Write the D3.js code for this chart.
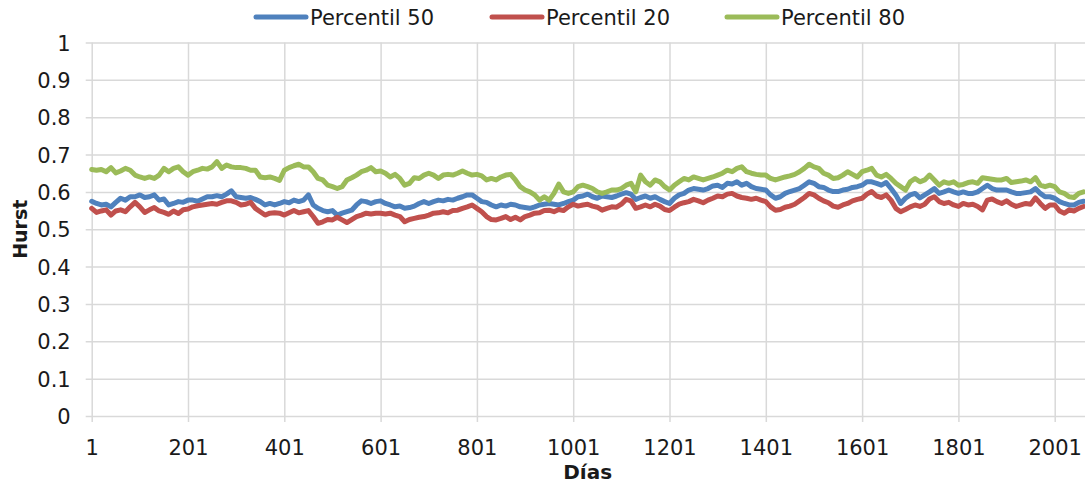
<!DOCTYPE html>
<html>
<head>
<meta charset="utf-8">
<script src="https://cdn.jsdelivr.net/npm/d3@7"></script>
<style>
  html, body { margin: 0; padding: 0; background: #ffffff; }
  svg { display: block; font-family: "DejaVu Sans", sans-serif; }
</style>
</head>
<body>
<svg id="chart" width="1085" height="484"></svg>
<script>
// Hurst exponent percentiles, sampled every 10 days starting at day 1
const firstDay = 1;
const dayStep = 10;

const p50 = [
  0.575,0.569,0.565,0.567,0.560,0.572,0.583,0.578,0.587,0.587,
  0.592,0.585,0.587,0.592,0.578,0.581,0.565,0.569,0.574,0.572,
  0.578,0.578,0.575,0.581,0.587,0.587,0.590,0.587,0.594,0.603,
  0.587,0.585,0.583,0.585,0.580,0.574,0.565,0.569,0.565,0.569,
  0.574,0.571,0.578,0.574,0.578,0.592,0.565,0.556,0.550,0.547,
  0.550,0.538,0.543,0.547,0.551,0.565,0.576,0.574,0.569,0.574,
  0.576,0.569,0.565,0.560,0.562,0.556,0.558,0.562,0.569,0.574,
  0.569,0.574,0.578,0.576,0.580,0.578,0.583,0.587,0.592,0.592,
  0.583,0.574,0.572,0.565,0.560,0.565,0.562,0.567,0.565,0.560,
  0.558,0.556,0.560,0.565,0.567,0.569,0.567,0.565,0.569,0.574,
  0.578,0.587,0.589,0.594,0.587,0.583,0.589,0.587,0.585,0.589,
  0.594,0.598,0.594,0.580,0.585,0.589,0.583,0.587,0.580,0.574,
  0.569,0.583,0.592,0.596,0.605,0.609,0.607,0.605,0.609,0.616,
  0.618,0.612,0.623,0.621,0.627,0.618,0.623,0.614,0.609,0.607,
  0.605,0.592,0.583,0.587,0.596,0.601,0.605,0.609,0.618,0.627,
  0.623,0.614,0.612,0.605,0.601,0.601,0.605,0.607,0.612,0.614,
  0.618,0.627,0.627,0.623,0.618,0.625,0.609,0.592,0.569,0.583,
  0.592,0.596,0.584,0.592,0.600,0.609,0.596,0.600,0.605,0.600,
  0.596,0.600,0.596,0.596,0.600,0.609,0.618,0.609,0.605,0.605,
  0.605,0.600,0.596,0.596,0.598,0.600,0.609,0.596,0.587,0.587,
  0.583,0.574,0.569,0.565,0.565,0.572,0.575
];

const p20 = [
  0.556,0.545,0.549,0.552,0.538,0.549,0.552,0.547,0.560,0.572,
  0.560,0.545,0.552,0.558,0.549,0.545,0.540,0.549,0.542,0.552,
  0.554,0.560,0.563,0.565,0.567,0.569,0.567,0.572,0.576,0.576,
  0.572,0.565,0.567,0.572,0.556,0.547,0.538,0.543,0.544,0.543,
  0.538,0.544,0.550,0.544,0.547,0.550,0.534,0.516,0.520,0.526,
  0.525,0.532,0.525,0.518,0.526,0.534,0.538,0.543,0.541,0.543,
  0.543,0.541,0.543,0.538,0.534,0.520,0.526,0.529,0.532,0.534,
  0.538,0.543,0.544,0.547,0.544,0.550,0.551,0.556,0.560,0.565,
  0.556,0.547,0.534,0.526,0.525,0.529,0.534,0.526,0.532,0.525,
  0.534,0.538,0.543,0.544,0.550,0.551,0.547,0.553,0.550,0.560,
  0.567,0.562,0.565,0.567,0.562,0.559,0.551,0.556,0.560,0.559,
  0.567,0.580,0.576,0.556,0.560,0.565,0.560,0.567,0.562,0.553,
  0.550,0.559,0.567,0.571,0.574,0.580,0.576,0.571,0.578,0.583,
  0.589,0.587,0.594,0.596,0.589,0.585,0.583,0.580,0.583,0.578,
  0.574,0.560,0.551,0.553,0.559,0.562,0.567,0.576,0.585,0.596,
  0.592,0.583,0.576,0.571,0.562,0.559,0.565,0.569,0.576,0.580,
  0.583,0.594,0.601,0.589,0.585,0.592,0.578,0.556,0.547,0.553,
  0.560,0.565,0.561,0.567,0.581,0.587,0.574,0.569,0.572,0.565,
  0.561,0.569,0.565,0.567,0.561,0.552,0.578,0.581,0.574,0.569,
  0.576,0.567,0.561,0.565,0.569,0.567,0.584,0.569,0.556,0.565,
  0.565,0.549,0.543,0.552,0.549,0.556,0.561
];

const p80 = [
  0.660,0.658,0.660,0.654,0.665,0.651,0.656,0.663,0.658,0.645,
  0.640,0.636,0.640,0.636,0.645,0.663,0.654,0.663,0.667,0.654,
  0.645,0.654,0.658,0.663,0.661,0.667,0.681,0.663,0.672,0.667,
  0.665,0.665,0.663,0.658,0.658,0.640,0.638,0.640,0.636,0.631,
  0.658,0.665,0.670,0.674,0.667,0.667,0.654,0.636,0.632,0.618,
  0.614,0.609,0.614,0.632,0.638,0.645,0.654,0.658,0.665,0.654,
  0.656,0.650,0.640,0.647,0.636,0.618,0.623,0.638,0.636,0.645,
  0.650,0.645,0.636,0.645,0.647,0.645,0.650,0.656,0.650,0.645,
  0.647,0.643,0.632,0.636,0.632,0.640,0.645,0.647,0.632,0.614,
  0.605,0.600,0.592,0.578,0.587,0.578,0.596,0.621,0.600,0.596,
  0.600,0.614,0.618,0.614,0.609,0.600,0.596,0.600,0.605,0.605,
  0.609,0.618,0.623,0.600,0.645,0.627,0.618,0.632,0.627,0.614,
  0.605,0.618,0.627,0.636,0.632,0.640,0.636,0.632,0.636,0.640,
  0.645,0.650,0.658,0.654,0.663,0.667,0.654,0.650,0.647,0.645,
  0.645,0.636,0.632,0.636,0.640,0.643,0.647,0.654,0.663,0.674,
  0.667,0.663,0.650,0.645,0.636,0.638,0.645,0.654,0.647,0.640,
  0.654,0.658,0.663,0.645,0.640,0.647,0.636,0.623,0.614,0.605,
  0.627,0.636,0.627,0.632,0.645,0.632,0.618,0.627,0.623,0.627,
  0.618,0.620,0.625,0.627,0.623,0.638,0.636,0.634,0.632,0.632,
  0.636,0.625,0.627,0.629,0.632,0.627,0.638,0.618,0.614,0.618,
  0.614,0.600,0.596,0.587,0.585,0.596,0.600
];

const seriesNames  = ["Percentil 50", "Percentil 20", "Percentil 80"];
const seriesValues = [p50, p20, p80];
const seriesColors = ["#4F81BD", "#C0504D", "#9BBB59"];

const xTickDays = [1, 201, 401, 601, 801, 1001, 1201, 1401, 1601, 1801, 2001];
const yTicks = [0, 0.1, 0.2, 0.3, 0.4, 0.5, 0.6, 0.7, 0.8, 0.9, 1];

const xTitle = "Días";
const yTitle = "Hurst";

// ---- layout ----
const W = 1085, H = 484;
const plot = { left: 91.7, right: 1083.6, top: 42.5, bottom: 416 };
const gridColor = "#d9d9d9";
const textColor = "#1a1a1a";
const fontSize = 21;

const lastDay = firstDay + dayStep * (p50.length - 1);
const x = d3.scaleLinear().domain([firstDay, lastDay]).range([plot.left, plot.right]);
const y = d3.scaleLinear().domain([0, 1]).range([plot.bottom, plot.top]);

const svg = d3.select("#chart");

// horizontal gridlines + y tick labels
const yAxis = d3.axisLeft(y)
  .tickValues(yTicks)
  .tickFormat(d => d3.format("~g")(d))
  .tickSize(-(W - plot.left))
  .tickPadding(0);

const gy = svg.append("g")
  .attr("transform", `translate(${plot.left},0)`)
  .call(yAxis);
gy.select(".domain").remove();
gy.selectAll(".tick line")
  .attr("x1", -6)
  .attr("stroke", gridColor)
  .attr("stroke-width", 1.5);
gy.selectAll(".tick text")
  .attr("x", -21)
  .attr("dy", "0.36em")
  .attr("fill", textColor)
  .style("font-size", fontSize + "px")
  .style("font-family", '"DejaVu Sans", sans-serif');

// vertical gridlines + x tick labels
const xAxis = d3.axisBottom(x)
  .tickValues(xTickDays)
  .tickFormat(d3.format("d"))
  .tickSize(0);

const gx = svg.append("g")
  .attr("transform", `translate(0,${plot.bottom})`)
  .call(xAxis);
gx.select(".domain").remove();
gx.selectAll(".tick line")
  .attr("y1", 6)
  .attr("y2", plot.top - plot.bottom)
  .attr("stroke", gridColor)
  .attr("stroke-width", 1.5);
gx.selectAll(".tick text")
  .attr("y", 39)
  .attr("dy", 0)
  .attr("fill", textColor)
  .style("font-size", fontSize + "px")
  .style("font-family", '"DejaVu Sans", sans-serif');

// series lines
const line = d3.line()
  .x((d, i) => x(firstDay + i * dayStep))
  .y(d => y(d))
  .curve(d3.curveLinear);

svg.append("clipPath").attr("id", "plotClip")
  .append("rect")
  .attr("x", plot.left - 4).attr("y", plot.top)
  .attr("width", W - plot.left + 4).attr("height", plot.bottom - plot.top);

svg.append("g")
  .attr("clip-path", "url(#plotClip)")
  .selectAll("path")
  .data(seriesValues)
  .join("path")
  .attr("d", line)
  .attr("fill", "none")
  .attr("stroke", (d, i) => seriesColors[i])
  .attr("stroke-width", 5)
  .attr("stroke-linejoin", "round")
  .attr("stroke-linecap", "round");

// legend
const legendItems = [
  { name: seriesNames[0], color: seriesColors[0], x0: 256 },
  { name: seriesNames[1], color: seriesColors[1], x0: 492 },
  { name: seriesNames[2], color: seriesColors[2], x0: 727 }
];
const legend = svg.append("g");
const lg = legend.selectAll("g").data(legendItems).join("g")
  .attr("transform", d => `translate(${d.x0},17)`);
lg.append("line")
  .attr("x1", 0).attr("x2", 50)
  .attr("y1", 0).attr("y2", 0)
  .attr("stroke", d => d.color)
  .attr("stroke-width", 5)
  .attr("stroke-linecap", "round");
lg.append("text")
  .attr("x", 54)
  .attr("y", 8)
  .attr("fill", textColor)
  .style("font-size", fontSize + "px")
  .text(d => d.name);

// axis titles
svg.append("text")
  .attr("x", (plot.left + plot.right) / 2)
  .attr("y", 479)
  .attr("text-anchor", "middle")
  .attr("fill", textColor)
  .style("font-size", "20px")
  .style("font-weight", "bold")
  .text(xTitle);

svg.append("text")
  .attr("transform", `translate(27,${(plot.top + plot.bottom) / 2}) rotate(-90)`)
  .attr("text-anchor", "middle")
  .attr("fill", textColor)
  .style("font-size", "19px")
  .style("font-weight", "bold")
  .text(yTitle);
</script>
</body>
</html>
